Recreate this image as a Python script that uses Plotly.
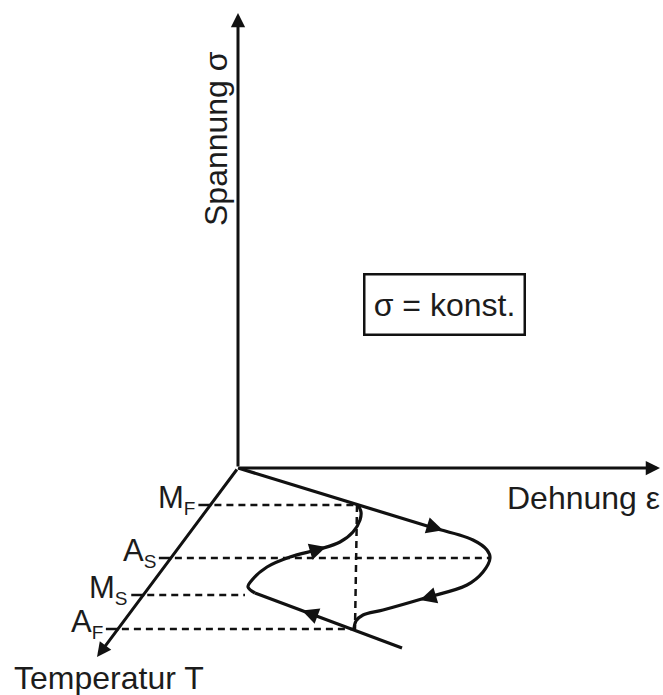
import plotly.graph_objects as go

FONT = "Liberation Sans, Arial, Helvetica, sans-serif"
INK = "#111111"
TEXT = "#1c1c1c"

# Schematic coordinates: origin at the axis intersection, y upwards
SIGMA_TOP = 455            # tip of the stress axis
EPS_END = 422              # tip of the strain axis
T_END = (-141, -189)       # tip of the oblique temperature axis

# Transformation temperatures and the strain reached at each of them
level_main = ["M", "A", "M", "A"]
level_sub = ["F", "S", "S", "F"]
level_y = [-37, -90, -127, -161]
level_reach = [120, 252, 7, 117]

# Branch leaving the origin (straight part, then the right loop)
upper_x = [0, 199]
upper_y = [0, -61]
right_loop_x = [199, 235, 249, 252, 245, 229, 187, 145, 125, 118, 116]
right_loop_y = [-61, -72, -82, -90, -104, -117, -130, -142, -147, -153, -161]

# Returning branch (straight part, then the left loop)
lower_x = [164, 17]
lower_y = [-180, -125]
left_loop_x = [17, 10, 14, 29, 52, 82, 102, 115, 122, 123, 120]
left_loop_y = [-125, -119, -112, -99, -89, -81, -74, -64, -52, -44, -37]

# Direction arrows on the curves: tip position and direction of travel
arrow_tip_x = [205, 182, 64, 88]
arrow_tip_y = [-62.3, -132, -142.4, -79]
arrow_dir_x = [1.0, -0.958, -1.0, 0.958]
arrow_dir_y = [-0.308, -0.285, 0.37, 0.287]

fig = go.Figure()

LW = 3.2
solid = dict(color=INK, width=LW)
fig.add_trace(go.Scatter(x=upper_x, y=upper_y, mode="lines", line=solid, hoverinfo="skip"))
fig.add_trace(go.Scatter(x=right_loop_x, y=right_loop_y, mode="lines",
                         line=dict(color=INK, width=LW, shape="spline", smoothing=1.0),
                         hoverinfo="skip"))
fig.add_trace(go.Scatter(x=lower_x, y=lower_y, mode="lines", line=solid, hoverinfo="skip"))
fig.add_trace(go.Scatter(x=left_loop_x, y=left_loop_y, mode="lines",
                         line=dict(color=INK, width=LW, shape="spline", smoothing=1.0),
                         hoverinfo="skip"))

# position on the temperature axis for a given height
def t_axis_x(y):
    return y * T_END[0] / T_END[1]

dash = dict(color=INK, width=2.5, dash="7px,5px")
annotations = []
for main, sub, y, reach in zip(level_main, level_sub, level_y, level_reach):
    ax0 = t_axis_x(y)
    # tick mark on the temperature axis
    fig.add_trace(go.Scatter(x=[ax0 - 12, ax0 + 1], y=[y, y], mode="lines",
                             line=dict(color=INK, width=2.5), hoverinfo="skip"))
    # dashed guide to the curve
    fig.add_trace(go.Scatter(x=[ax0 + 4, reach], y=[y, y], mode="lines",
                             line=dash, hoverinfo="skip"))
    label = f'{main}<sub><span style="font-size:19px">{sub}</span></sub>'
    annotations.append(dict(x=ax0 - 13, y=y + 6, xref="x", yref="y", text=label,
                            showarrow=False, xanchor="right", yanchor="middle",
                            font=dict(family=FONT, size=31, color=TEXT)))

# vertical dashed guide between M_F and A_F
fig.add_trace(go.Scatter(x=[level_reach[0] - 1, level_reach[0] - 3],
                         y=[level_y[0], level_y[3]], mode="lines",
                         line=dash, hoverinfo="skip"))

# coordinate axes drawn as arrows from the origin
for tip in [(0, SIGMA_TOP), (EPS_END, 0), T_END]:
    annotations.append(dict(x=tip[0], y=tip[1], ax=0, ay=0, xref="x", yref="y",
                            axref="x", ayref="y", text="", showarrow=True,
                            arrowhead=2, arrowsize=0.95, arrowwidth=3,
                            arrowcolor=INK, standoff=0))

# arrowheads showing the direction along the curve
for tx, ty, dx, dy in zip(arrow_tip_x, arrow_tip_y, arrow_dir_x, arrow_dir_y):
    n = (dx * dx + dy * dy) ** 0.5
    annotations.append(dict(x=tx, y=ty, ax=tx - 14 * dx / n, ay=ty - 14 * dy / n,
                            xref="x", yref="y", axref="x", ayref="y", text="",
                            showarrow=True, arrowhead=2, arrowsize=1.1, arrowwidth=3,
                            arrowcolor=INK, standoff=0))

# axis titles
annotations.append(dict(x=-22, y=329, xref="x", yref="y", text="Spannung σ",
                        textangle=-90, showarrow=False, xanchor="center",
                        yanchor="middle", font=dict(family=FONT, size=32, color=TEXT)))
annotations.append(dict(x=345, y=-30, xref="x", yref="y", text="Dehnung ε",
                        showarrow=False, xanchor="center", yanchor="middle",
                        font=dict(family=FONT, size=32, color=TEXT)))
annotations.append(dict(x=-129, y=-210, xref="x", yref="y", text="Temperatur T",
                        showarrow=False, xanchor="center", yanchor="middle",
                        font=dict(family=FONT, size=32, color=TEXT)))

# boxed note for the constant stress
annotations.append(dict(x=206, y=163.5, xref="x", yref="y", text="σ = konst.",
                        showarrow=False, xanchor="center", yanchor="middle",
                        width=158, height=58, borderpad=0,
                        bordercolor=INK, borderwidth=2.5, bgcolor="white",
                        font=dict(family=FONT, size=32, color=TEXT)))

fig.update_layout(
    width=663, height=695,
    margin=dict(l=0, r=0, t=0, b=0),
    paper_bgcolor="white", plot_bgcolor="white",
    showlegend=False,
    annotations=annotations,
    xaxis=dict(range=[-238, 425], visible=False, fixedrange=True),
    yaxis=dict(range=[-227, 468], visible=False, fixedrange=True),
)

fig.write_html("out.html", config={"displayModeBar": False})
